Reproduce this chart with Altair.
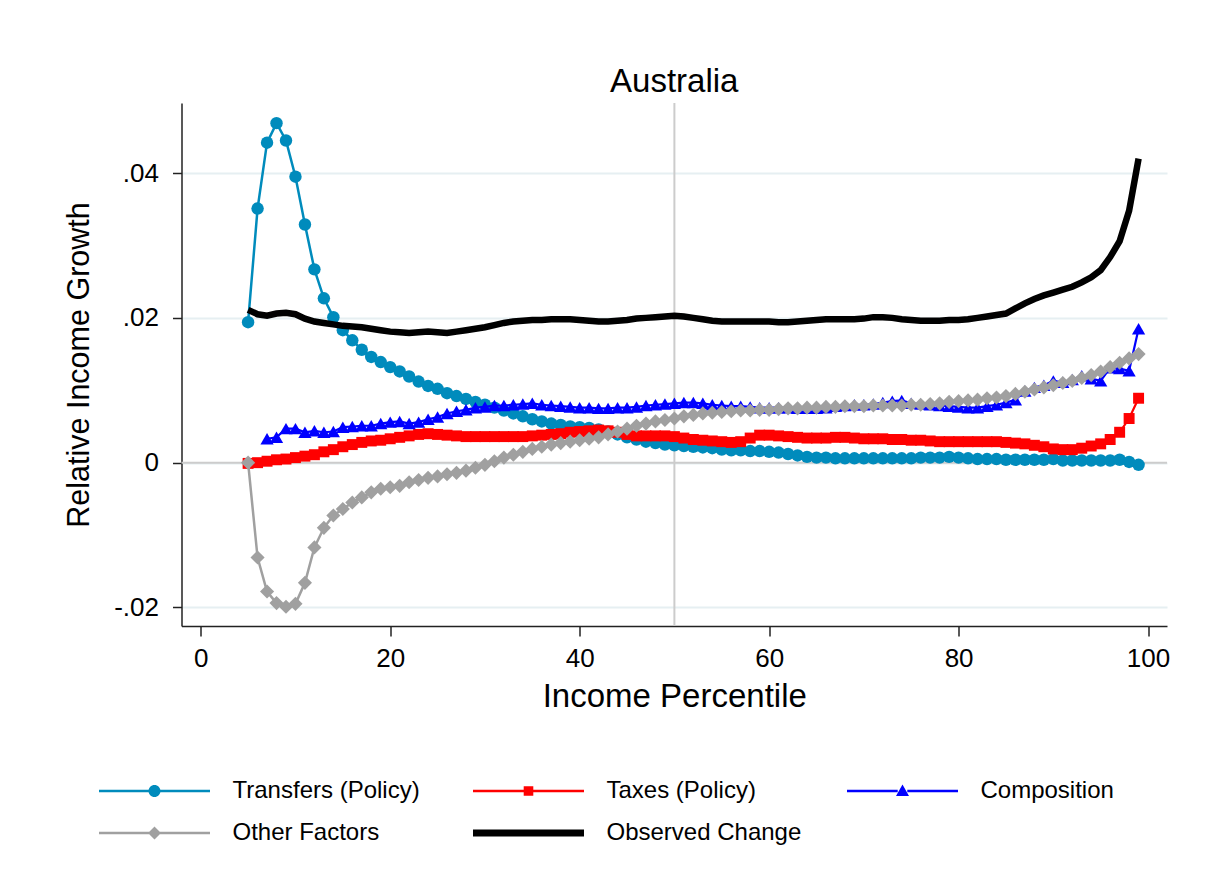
import altair as alt
import pandas as pd

# ---------------- data ----------------
pct = list(range(5, 100))          # percentiles 5..99
pct_comp = list(range(7, 100))     # composition starts at 7

transfers = [
    .0194, .0351, .0442, .0469, .0445, .0395, .0329, .0267, .0227, .0201,
    .0183, .0169, .0156, .0146, .0139, .0132, .0126, .0119, .0112, .0106,
    .0102, .0096, .0092, .0088, .0084, .0080, .0076, .0072, .0068, .0064,
    .0060, .0057, .0054, .0052, .0050, .0049, .0048, .0046, .0043, .0039,
    .0035, .0032, .0029, .0027, .0025, .0024, .0023, .0022, .0021, .0020,
    .0018, .0017, .0017, .0016, .0016, .0015, .0014, .0012, .0010, .0008,
    .0007, .0007, .0006, .0006, .0006, .0006, .0006, .0006, .0006, .0006,
    .0006, .0007, .0007, .0007, .0008, .0007, .0006, .0005, .0005, .0005,
    .0004, .0004, .0004, .0004, .0004, .0005, .0003, .0003, .0003, .0003,
    .0003, .0003, .0004, .0001, -.0003,
]

taxes = [
    -.0001, .0000, .0002, .0004, .0005, .0007, .0009, .0011, .0015, .0018,
    .0022, .0025, .0028, .0030, .0031, .0033, .0035, .0037, .0039, .0040,
    .0039, .0038, .0037, .0036, .0036, .0036, .0036, .0036, .0036, .0036,
    .0037, .0038, .0039, .0040, .0042, .0043, .0044, .0045, .0044, .0042,
    .0039, .0037, .0037, .0037, .0037, .0036, .0034, .0032, .0031, .0030,
    .0029, .0028, .0029, .0034, .0038, .0038, .0037, .0036, .0035, .0034,
    .0034, .0034, .0035, .0035, .0034, .0033, .0033, .0033, .0032, .0032,
    .0031, .0031, .0030, .0029, .0029, .0029, .0029, .0029, .0029, .0029,
    .0028, .0027, .0026, .0024, .0022, .0019, .0018, .0018, .0020, .0023,
    .0026, .0032, .0042, .0061, .0089,
]

composition = [
    .0033, .0035, .0047, .0047, .0042, .0044, .0042, .0043, .0049, .0050,
    .0051, .0051, .0054, .0056, .0057, .0054, .0056, .0060, .0063, .0068,
    .0071, .0073, .0076, .0077, .0079, .0079, .0080, .0081, .0082, .0080,
    .0079, .0078, .0077, .0076, .0076, .0075, .0075, .0076, .0076, .0077,
    .0079, .0080, .0081, .0082, .0083, .0083, .0082, .0080, .0079, .0078,
    .0078, .0077, .0076, .0076, .0076, .0076, .0075, .0075, .0075, .0076,
    .0078, .0079, .0080, .0080, .0081, .0083, .0085, .0086, .0082, .0081,
    .0080, .0079, .0078, .0077, .0076, .0076, .0078, .0080, .0083, .0087,
    .0099, .0104, .0107, .0113, .0111, .0115, .0120, .0116, .0113, .0131,
    .0130, .0127, .0185,
]

other = [
    .0000, -.0131, -.0178, -.0194, -.0199, -.0195, -.0166, -.0117, -.0090, -.0073,
    -.0064, -.0055, -.0048, -.0041, -.0036, -.0034, -.0032, -.0027, -.0024, -.0021,
    -.0019, -.0016, -.0014, -.0011, -.0007, -.0003, .0002, .0007, .0011, .0015,
    .0019, .0022, .0025, .0027, .0029, .0031, .0033, .0035, .0039, .0043,
    .0047, .0051, .0054, .0057, .0059, .0061, .0064, .0066, .0068, .0069,
    .0070, .0071, .0072, .0072, .0073, .0073, .0074, .0075, .0075, .0076,
    .0076, .0077, .0077, .0078, .0078, .0078, .0079, .0079, .0079, .0079,
    .0080, .0080, .0081, .0082, .0084, .0085, .0086, .0087, .0089, .0090,
    .0092, .0095, .0098, .0101, .0104, .0107, .0110, .0113, .0117, .0121,
    .0126, .0132, .0138, .0144, .0150,
]

observed = [
    .0211, .0205, .0203, .0206, .0207, .0205, .0199, .0195, .0193, .0191,
    .0189, .0188, .0187, .0185, .0183, .0181, .0180, .0179, .0180, .0181,
    .0180, .0179, .0181, .0183, .0185, .0187, .0190, .0193, .0195, .0196,
    .0197, .0197, .0198, .0198, .0198, .0197, .0196, .0195, .0195, .0196,
    .0197, .0199, .0200, .0201, .0202, .0203, .0202, .0200, .0198, .0196,
    .0195, .0195, .0195, .0195, .0195, .0195, .0194, .0194, .0195, .0196,
    .0197, .0198, .0198, .0198, .0198, .0199, .0201, .0201, .0200, .0198,
    .0197, .0196, .0196, .0196, .0197, .0197, .0198, .0200, .0202, .0204,
    .0206, .0213, .0220, .0226, .0231, .0235, .0239, .0243, .0249, .0256,
    .0266, .0284, .0306, .0348, .0420,
]

names = ["Transfers (Policy)", "Taxes (Policy)", "Composition",
         "Other Factors", "Observed Change"]
colors = ["#008BBC", "#FF0000", "#0000FF", "#A0A0A0", "#000000"]
shapes = ["circle", "square", "triangle-up", "diamond", None]
msizes = [155, 120, 175, 200, 0]
lwidths = [2.5, 2.2, 2.2, 2.5, 6.5]
xs_all = [pct, pct, pct_comp, pct, pct]
ys_all = [transfers, taxes, composition, other, observed]

FONT = "Liberation Sans"

x_scale = alt.Scale(domain=[-2.03, 102.0], nice=False, zero=False)
y_scale = alt.Scale(domain=[-0.02256, 0.04968], nice=False, zero=False)

x_axis = alt.Axis(values=[0, 20, 40, 60, 80, 100], title="Income Percentile",
                  grid=False, labelFontSize=26, titleFontSize=33,
                  labelFont=FONT, titleFont=FONT, titleFontWeight="normal",
                  labelColor="#000", titleColor="#000",
                  domainColor="#222", tickColor="#222", domainWidth=1.5,
                  tickWidth=1.5, tickSize=10, labelPadding=9,
                  titleY=70, titleBaseline="middle")
y_axis = alt.Axis(values=[-0.02, 0, 0.02, 0.04], title="Relative Income Growth",
                  labelExpr="datum.value == 0 ? '0' : (datum.value < 0 ? '-' : '') + replace(format(abs(datum.value), '.2f'), '0.', '.')",
                  grid=True, gridColor="#E6EFF2", gridWidth=2,
                  labelFontSize=26, titleFontSize=30.5, labelFont=FONT,
                  titleFont=FONT, titleFontWeight="normal",
                  labelColor="#000", titleColor="#000",
                  domainColor="#222", tickColor="#222", domainWidth=1.5,
                  tickWidth=1.5, tickSize=9, labelPadding=14,
                  titleX=-102, titleY=261.5, titleBaseline="middle",
                  titleAngle=-90)


def X():
    return alt.X("pct:Q", scale=x_scale, axis=x_axis)


def Y():
    return alt.Y("value:Q", scale=y_scale, axis=y_axis)


ref_df = pd.DataFrame({"pct": [50], "value": [0.0]})
zero_rule = alt.Chart(ref_df).mark_rule(color="#CCCCCC", strokeWidth=2).encode(
    y=Y())
fifty_rule = alt.Chart(ref_df).mark_rule(color="#CCCCCC", strokeWidth=2).encode(
    x=X())

layers = [zero_rule, fifty_rule]
for name, xs, ys, col, shp, ms, lw in zip(names, xs_all, ys_all, colors,
                                          shapes, msizes, lwidths):
    d = pd.DataFrame({"pct": xs, "value": ys, "series": name})
    layers.append(alt.Chart(d).mark_line(color=col, strokeWidth=lw).encode(
        x=X(), y=Y()))
    if shp is not None:
        layers.append(alt.Chart(d).mark_point(shape=shp, filled=True,
                                              size=ms, color=col,
                                              opacity=1).encode(x=X(), y=Y()))

# ---- legend: custom glyphs (line with marker) ----
U = 8.0  # px per symbol unit (symbol size 256 -> sqrt 16 -> half 8)
L = 55.5 / U
D = 4.0 / U  # shift of glyph centre to the right


def seg(t, gap):
    if gap <= 0:
        return f"M{-L + D},{-t}H{L + D}V{t}H{-L + D}Z"
    return (f"M{-L + D},{-t}H{-gap + D}V{t}H{-L + D}Z"
            f"M{gap + D},{-t}H{L + D}V{t}H{gap + D}Z")


t = 1.3 / U
r = 6.0 / U
s = 4.8 / U
a = 6.5 / U
glyphs = [
    seg(t, r * 0.9) + f"M{r + D},0A{r},{r} 0 1 1 {-r + D},0A{r},{r} 0 1 1 {r + D},0Z",
    seg(t, s * 0.9) + f"M{-s + D},{-s}H{s + D}V{s}H{-s + D}Z",
    seg(t, 0.6) + f"M{D},{-a}L{a + D},{0.75 * a}L{-a + D},{0.75 * a}Z",
    seg(t, 0.6) + f"M{D},{-a}L{a + D},0L{D},{a}L{-a + D},0Z",
    seg(3.6 / U, 0),
]

legend = alt.Legend(title=None, orient="none", legendX=-43, legendY=676,
                    direction="horizontal", columns=3, gridAlign="all",
                    symbolSize=256, symbolStrokeWidth=0, symbolOpacity=1,
                    labelFontSize=24,
                    labelFont=FONT, labelColor="#000", labelOffset=70,
                    columnPadding=45, rowPadding=18, padding=0,
                    labelLimit=400)
leg_df = pd.DataFrame({"series": names})
legend_layer = alt.Chart(leg_df).mark_point(filled=True, size=256).encode(
    color=alt.Color("series:N", scale=alt.Scale(domain=names, range=colors),
                    legend=legend, sort=names),
    shape=alt.Shape("series:N", scale=alt.Scale(domain=names, range=glyphs),
                    legend=legend, sort=names),
).transform_filter("datum.series == 'none'")
layers.append(legend_layer)

chart = alt.layer(*layers).properties(
    width=985.5, height=523,
    background="white",
    title=alt.TitleParams("Australia", fontSize=33, font=FONT,
                          fontWeight="normal", color="#000",
                          anchor="middle", offset=3),
    autosize=alt.AutoSizeParams(type="none"),
    padding={"left": 173.5, "top": 95, "right": 40, "bottom": 250},
).configure_view(stroke=None)

chart.save("out.html", embed_options={"renderer": "svg", "actions": False})
